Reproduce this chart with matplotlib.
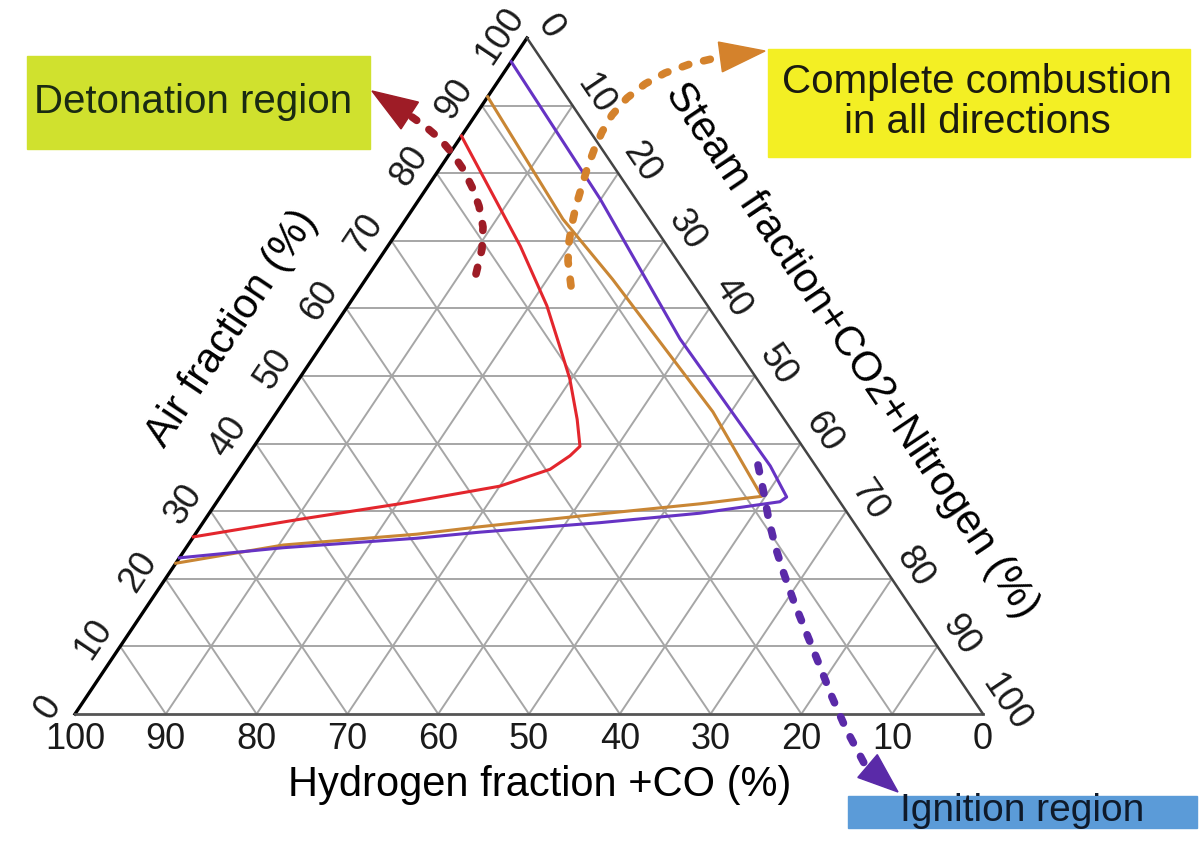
import numpy as np
import matplotlib
matplotlib.use("Agg")
import matplotlib.pyplot as plt
from matplotlib.patches import Rectangle, Polygon

plt.rcParams['font.family'] = ['Liberation Sans', 'DejaVu Sans']

# ternary data: air fraction (%) and steam+CO2+N2 fraction (%), hydrogen+CO is the rest
red_air = [85.5, 69.2, 60.4, 54.4, 49.6, 43.6, 39.6, 38.2, 36.2, 33.7, 31.1, 28.8, 26.2]
red_steam = [0, 14.6, 21.9, 26.3, 29.8, 33.6, 35.9, 35.5, 34.3, 30.0, 20.3, 10.4, 0]
orange_air = [91.3, 73.2, 64.3, 44.7, 32.2, 31.1, 29.6, 27.7, 26.6, 25.0, 22.3]
orange_steam = [0, 17.3, 27.2, 48.0, 59.6, 53.4, 43.1, 30.8, 24.4, 10.5, 0]
purple_air = [96.5, 76.2, 55.5, 36.7, 32.1, 31.4, 29.7, 28.3, 26.9, 26.0, 24.6, 23.1]
purple_steam = [0, 19.9, 39.0, 58.3, 62.4, 62.0, 54.0, 43.7, 31.2, 24.7, 10.7, 0]
ticks = list(range(0, 101, 10))

# triangle corners in pixel space (hydrogen, air, steam)
BL = (75, 715)
TOP = (527, 39)
BR = (983, 715)


def tern(air, steam):
    a = np.asarray(air, float) / 100
    s = np.asarray(steam, float) / 100
    h = 1 - a - s
    x = h * BL[0] + a * TOP[0] + s * BR[0]
    y = h * BL[1] + a * TOP[1] + s * BR[1]
    return x, y


fig = plt.figure(figsize=(12, 8.54), dpi=100)
ax = fig.add_axes([0, 0, 1, 1])
ax.set_xlim(0, 1200)
ax.set_ylim(854, 0)
ax.axis('off')

# grid
grid_c = '#a6a6a6'
for k in ticks[1:-1]:
    ax.plot(*tern([k, k], [0, 100 - k]), color=grid_c, lw=1.4, zorder=1)
    ax.plot(*tern([0, 100 - k], [k, k]), color=grid_c, lw=1.4, zorder=1)
    ax.plot(*tern([0, 100 - k], [100 - k, 0]), color=grid_c, lw=1.4, zorder=1)

# triangle edges
ax.plot(*tern([0, 100], [0, 0]), color='black', lw=2.4, zorder=3)
ax.plot(*tern([0, 0], [0, 100]), color='#555555', lw=2.0, zorder=3)
ax.plot(*tern([100, 0], [0, 100]), color='#444444', lw=1.8, zorder=3)

# tick labels
for v in ticks:
    x, y = tern(v, 0)
    ax.text(x - 27, max(y - 8, 36), str(v), rotation=56.2, fontsize=26,
            ha='center', va='center', color='#1a1a1a')
    x, y = tern(0, 100 - v)
    ax.text(x, y + 25, str(v), fontsize=26, ha='center', va='center', color='#1a1a1a')
    x, y = tern(100 - v, v)
    ax.text(x + 23, y - 12, str(v), rotation=-56, fontsize=26, ha='center', va='center', color='#1a1a1a')

# axis titles
ax.text(232, 328, 'Air fraction (%)', rotation=56.2, fontsize=30, ha='center', va='center')
ax.text(851, 350, 'Steam fraction+CO2+Nitrogen (%)', rotation=-56, fontsize=30, ha='center', va='center')
ax.text(540, 785, 'Hydrogen fraction +CO (%)', fontsize=30, ha='center', va='center')

# limit curves
ax.plot(*tern(red_air, red_steam), color='#e3262d', lw=2.2, zorder=4)
ax.plot(*tern(orange_air, orange_steam), color='#c98634', lw=2.2, zorder=4)
ax.plot(*tern(purple_air, purple_steam), color='#6633c4', lw=2.2, zorder=5)


def dotted_arrow(pts, tip, color, head_l, head_w):
    px = [p[0] for p in pts]
    py = [p[1] for p in pts]
    ax.plot(px, py, color=color, lw=5.5, linestyle=(0, (0.9, 2.0)),
            dash_capstyle='round', zorder=6)
    d = np.array(tip, float) - np.array(pts[-1], float)
    d = d / np.hypot(*d)
    n = np.array([-d[1], d[0]])
    base = np.array(tip) - head_l * d
    head = [tip, base + n * head_w / 2, base - n * head_w / 2]
    ax.add_patch(Polygon(head, closed=True, color=color, zorder=6))


dotted_arrow([(476, 275), (482, 250), (483, 228), (479, 207), (472, 188), (463, 170),
              (452, 154), (440, 140), (426, 128), (412, 118)],
             (372, 92), '#9e1c26', 45, 32)
dotted_arrow([(571, 287), (568, 262), (569, 243), (572, 225), (576, 207), (581, 190),
              (587, 170), (594, 151), (602, 133), (612, 116), (627, 99), (645, 85),
              (665, 74), (690, 65), (720, 58)],
             (765, 52), '#d4822c', 45, 30)
dotted_arrow([(758, 466), (764, 495), (769, 522), (776, 550), (784, 575), (794, 603),
              (806, 633), (819, 665), (832, 698), (846, 730), (864, 764)],
             (898, 793), '#5a2aa8', 40, 30)

# region boxes
ax.add_patch(Rectangle((27, 57), 343, 93, color='#d0e12e', zorder=2))
ax.text(193, 102, 'Detonation region', fontsize=29, ha='center', va='center', color='#1a2a12', zorder=7)

ax.add_patch(Rectangle((768, 50), 422, 108, color='#f3ef24', zorder=2))
ax.text(977, 82, 'Complete combustion', fontsize=29, ha='center', va='center', color='#1a1a10', zorder=7)
ax.text(977, 122, 'in all directions', fontsize=29, ha='center', va='center', color='#1a1a10', zorder=7)

ax.add_patch(Rectangle((848, 797), 349, 32, color='#5b9bd8', zorder=2))
ax.text(1022, 811, 'Ignition region', fontsize=28, ha='center', va='center', color='#0f1a2a', zorder=7)

fig.savefig('out.png', dpi=100)
